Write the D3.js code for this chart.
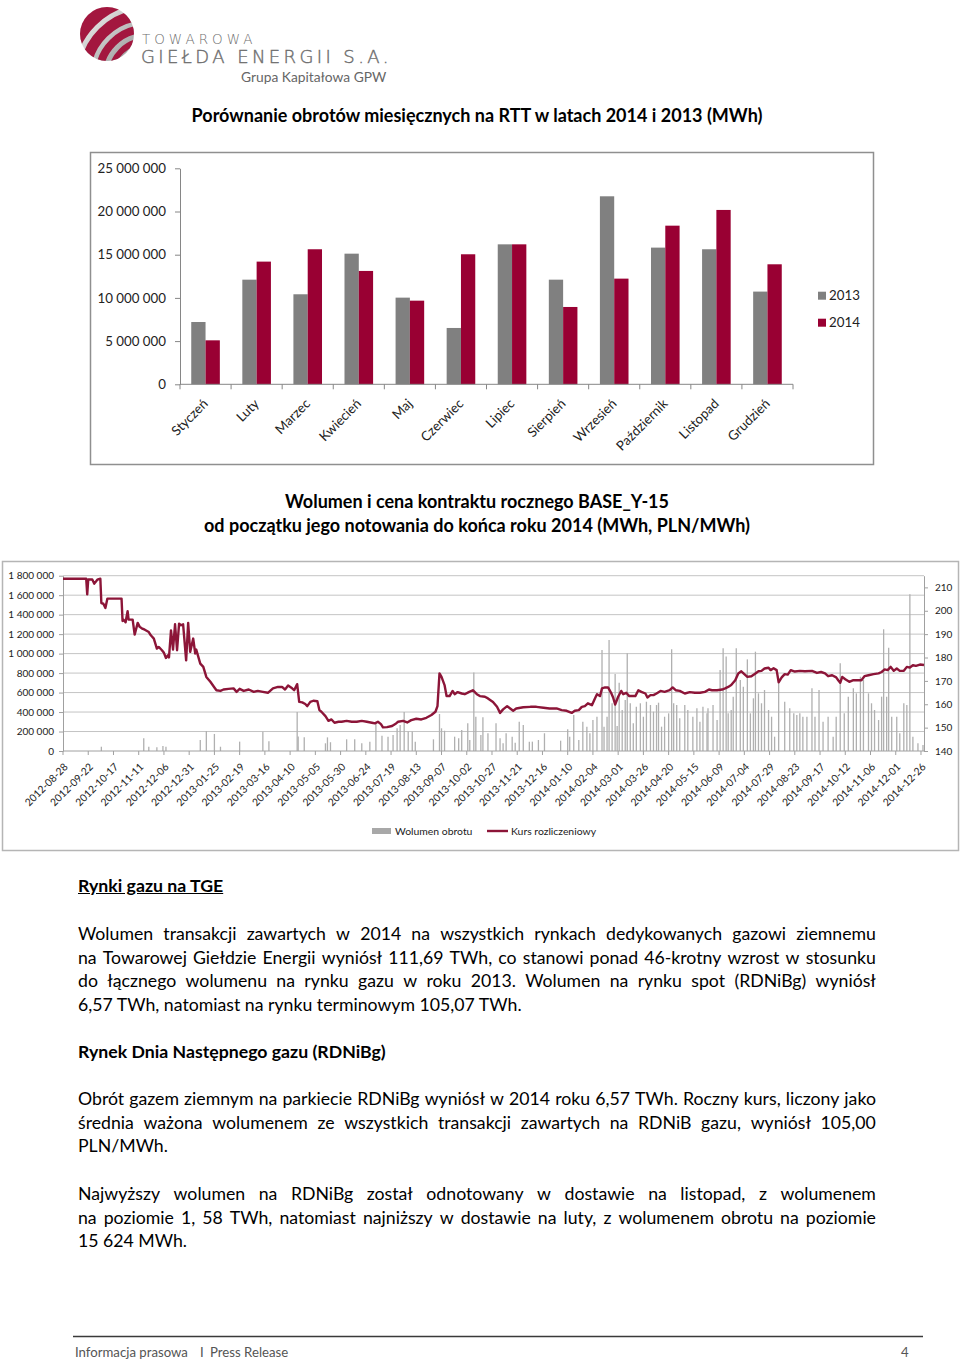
<!DOCTYPE html>
<html>
<head>
<meta charset="utf-8">
<script src="https://cdn.jsdelivr.net/npm/d3@7"></script>
<style>
  body { margin: 0; width: 960px; height: 1362px; position: relative; background: #fff; font-family: Lato, "Open Sans", sans-serif; overflow: hidden; }
  svg { position: absolute; left: 0; top: 0; }
  .ln { position: absolute; left: 78px; width: 798px; font-size: 17.7px; line-height: 23.7px; height: 23.7px; color: #000; white-space: nowrap; }
  .j { display: flex; justify-content: space-between; }
  .b { font-weight: bold; }
  .u { text-decoration: underline; }
</style>
</head>
<body>
<div id="page"></div>
<script>
// ---------- data: monthly turnover on RTT (MWh) ----------
const months = ["Styczeń", "Luty", "Marzec", "Kwiecień", "Maj", "Czerwiec", "Lipiec", "Sierpień", "Wrzesień", "Październik", "Listopad", "Grudzień"];
const years = ["2013", "2014"];
const turnover2013 = [7210000, 12110000, 10420000, 15120000, 10030000, 6520000, 16200000, 12110000, 21760000, 15820000, 15630000, 10730000];
const turnover2014 = [5090000, 14200000, 15630000, 13120000, 9680000, 15050000, 16200000, 8950000, 12230000, 18360000, 20180000, 13890000];
const turnoverTicks = [0, 5000000, 10000000, 15000000, 20000000, 25000000];

// ---------- data: BASE_Y-15 volume (thousand MWh) and settlement price (PLN/MWh) ----------
const volumeTicks = [0, 200000, 400000, 600000, 800000, 1000000, 1200000, 1400000, 1600000, 1800000];
const priceTicks = [140, 150, 160, 170, 180, 190, 200, 210];
const dateTicks = ["2012-08-28", "2012-09-22", "2012-10-17", "2012-11-11", "2012-12-06", "2012-12-31", "2013-01-25", "2013-02-19", "2013-03-16", "2013-04-10", "2013-05-05", "2013-05-30", "2013-06-24", "2013-07-19", "2013-08-13", "2013-09-07", "2013-10-02", "2013-10-27", "2013-11-21", "2013-12-16", "2014-01-10", "2014-02-04", "2014-03-01", "2014-03-26", "2014-04-20", "2014-05-15", "2014-06-09", "2014-07-04", "2014-07-29", "2014-08-23", "2014-09-17", "2014-10-12", "2014-11-06", "2014-12-01", "2014-12-26"];

const volumeK = [["2012-10-05",44],["2012-11-16",130],["2012-11-21",44],["2012-11-29",38],["2012-12-05",51],["2012-12-08",44],["2013-01-11",113],["2013-01-17",205],["2013-01-25",175],["2013-01-31",44],["2013-02-19",96],["2013-03-14",198],["2013-03-20",100],["2013-04-17",400],["2013-04-18",150],["2013-04-24",140],["2013-05-15",79],["2013-05-17",140],["2013-05-20",90],["2013-06-05",120],["2013-06-13",120],["2013-06-20",79],["2013-06-28",96],["2013-07-04",284],["2013-07-10",157],["2013-07-16",147],["2013-07-21",164],["2013-07-25",233],["2013-07-28",267],["2013-08-01",400],["2013-08-05",200],["2013-08-09",200],["2013-08-12",96],["2013-08-30",120],["2013-09-05",380],["2013-09-07",233],["2013-09-10",208],["2013-09-20",147],["2013-09-24",130],["2013-09-27",216],["2013-10-03",284],["2013-10-05",113],["2013-10-09",806],["2013-10-11",352],["2013-10-16",164],["2013-10-18",346],["2013-10-23",182],["2013-10-31",284],["2013-11-04",130],["2013-11-07",79],["2013-11-10",182],["2013-11-16",147],["2013-11-19",85],["2013-11-23",301],["2013-11-27",267],["2013-12-03",96],["2013-12-06",96],["2013-12-12",113],["2013-12-18",182],["2014-01-03",106],["2014-01-10",223],["2014-01-12",147],["2014-01-16",370],["2014-01-21",113],["2014-01-25",301],["2014-01-29",250],["2014-02-01",182],["2014-02-04",318],["2014-02-08",352],["2014-02-13",1037],["2014-02-15",250],["2014-02-18",352],["2014-02-20",1140],["2014-02-23",490],["2014-02-26",790],["2014-02-28",257],["2014-03-02",701],["2014-03-05",421],["2014-03-08",524],["2014-03-10",1003],["2014-03-13",490],["2014-03-16",284],["2014-03-19",455],["2014-03-23",490],["2014-03-26",352],["2014-03-29",506],["2014-04-02",472],["2014-04-05",404],["2014-04-08",472],["2014-04-10",496],["2014-04-13",250],["2014-04-16",352],["2014-04-20",387],["2014-04-23",1044],["2014-04-25",490],["2014-04-28",472],["2014-05-01",336],["2014-05-06",472],["2014-05-09",421],["2014-05-14",352],["2014-05-18",438],["2014-05-21",301],["2014-05-24",455],["2014-05-28",387],["2014-05-29",438],["2014-06-03",472],["2014-06-07",318],["2014-06-10",832],["2014-06-13",1054],["2014-06-16",970],["2014-06-18",387],["2014-06-21",421],["2014-06-23",558],["2014-06-26",1054],["2014-06-30",729],["2014-07-03",660],["2014-07-07",941],["2014-07-10",387],["2014-07-13",541],["2014-07-15",1020],["2014-07-18",592],["2014-07-21",490],["2014-07-24",626],["2014-07-28",421],["2014-07-31",352],["2014-08-03",147],["2014-08-07",729],["2014-08-13",506],["2014-08-18",438],["2014-08-22",387],["2014-08-25",370],["2014-08-28",387],["2014-08-31",352],["2014-09-04",352],["2014-09-09",644],["2014-09-12",352],["2014-09-16",626],["2014-09-20",301],["2014-09-25",352],["2014-09-30",147],["2014-10-03",352],["2014-10-07",900],["2014-10-11",387],["2014-10-15",558],["2014-10-20",644],["2014-10-23",592],["2014-10-27",763],["2014-10-30",729],["2014-11-04",592],["2014-11-07",490],["2014-11-10",421],["2014-11-14",318],["2014-11-17",558],["2014-11-19",1250],["2014-11-22",558],["2014-11-24",1060],["2014-11-27",352],["2014-12-02",352],["2014-12-05",182],["2014-12-09",490],["2014-12-12",472],["2014-12-15",1610],["2014-12-18",147],["2014-12-23",79],["2014-12-28",62]];

const kurs = [["2012-08-28",213.7],["2012-09-20",213.7],["2012-09-21",207.0],["2012-09-22",213.4],["2012-09-26",213.4],["2012-09-28",211.6],["2012-10-01",213.3],["2012-10-04",213.7],["2012-10-05",203.3],["2012-10-07",203.0],["2012-10-09",201.2],["2012-10-11",205.2],["2012-10-25",205.2],["2012-10-26",195.6],["2012-10-27",196.2],["2012-10-29",195.1],["2012-10-31",199.8],["2012-11-01",196.2],["2012-11-05",196.2],["2012-11-07",189.8],["2012-11-10",194.8],["2012-11-12",193.1],["2012-11-14",192.5],["2012-11-17",191.9],["2012-11-21",190.9],["2012-11-23",189.5],["2012-11-26",188.1],["2012-11-29",183.8],["2012-12-01",184.5],["2012-12-04",183.1],["2012-12-06",182.0],["2012-12-08",179.8],["2012-12-10",181.0],["2012-12-11",180.0],["2012-12-13",191.6],["2012-12-15",183.4],["2012-12-17",194.2],["2012-12-19",183.1],["2012-12-21",194.5],["2012-12-23",193.8],["2012-12-25",194.2],["2012-12-28",178.8],["2012-12-30",194.8],["2013-01-01",182.4],["2013-01-04",188.1],["2013-01-06",181.7],["2013-01-07",183.4],["2013-01-11",177.4],["2013-01-14",176.0],["2013-01-17",171.7],["2013-01-21",169.6],["2013-01-25",167.2],["2013-01-27",166.0],["2013-01-31",165.7],["2013-02-03",166.3],["2013-02-08",166.6],["2013-02-13",166.8],["2013-02-16",165.3],["2013-02-19",166.6],["2013-02-23",165.7],["2013-02-28",166.3],["2013-03-05",165.3],["2013-03-09",165.7],["2013-03-14",165.3],["2013-03-19",164.9],["2013-03-24",166.8],["2013-03-29",167.4],["2013-04-02",167.4],["2013-04-05",166.3],["2013-04-08",168.0],["2013-04-12",166.8],["2013-04-14",166.0],["2013-04-17",168.6],["2013-04-19",161.0],["2013-04-22",160.8],["2013-04-25",160.1],["2013-04-27",159.2],["2013-04-30",161.0],["2013-05-03",161.5],["2013-05-07",161.3],["2013-05-09",157.5],["2013-05-11",156.8],["2013-05-15",154.9],["2013-05-18",152.9],["2013-05-21",153.5],["2013-05-24",152.1],["2013-05-28",152.5],["2013-05-31",152.5],["2013-06-05",152.9],["2013-06-10",152.5],["2013-06-15",152.5],["2013-06-20",152.9],["2013-06-25",152.5],["2013-06-30",152.1],["2013-07-03",151.8],["2013-07-06",152.5],["2013-07-09",151.5],["2013-07-11",150.1],["2013-07-15",150.2],["2013-07-20",150.7],["2013-07-24",151.8],["2013-07-26",152.5],["2013-07-31",152.9],["2013-08-04",152.2],["2013-08-08",153.2],["2013-08-13",153.8],["2013-08-18",153.5],["2013-08-23",154.2],["2013-08-28",155.4],["2013-09-01",156.8],["2013-09-03",159.2],["2013-09-05",173.2],["2013-09-07",171.7],["2013-09-10",168.2],["2013-09-12",163.5],["2013-09-15",163.5],["2013-09-18",165.7],["2013-09-20",164.3],["2013-09-23",165.2],["2013-09-27",164.6],["2013-09-30",164.3],["2013-10-04",165.2],["2013-10-08",166.0],["2013-10-12",164.3],["2013-10-15",163.5],["2013-10-20",163.2],["2013-10-23",162.5],["2013-10-28",161.0],["2013-11-01",158.9],["2013-11-04",156.3],["2013-11-07",157.8],["2013-11-11",159.2],["2013-11-14",158.2],["2013-11-17",157.2],["2013-11-20",158.2],["2013-11-27",158.7],["2013-12-04",158.9],["2013-12-10",158.9],["2013-12-17",158.5],["2013-12-23",158.2],["2013-12-30",158.2],["2014-01-04",157.5],["2014-01-09",157.2],["2014-01-14",156.3],["2014-01-17",157.2],["2014-01-21",157.5],["2014-01-24",158.9],["2014-01-27",159.2],["2014-01-30",160.4],["2014-02-03",159.6],["2014-02-06",162.5],["2014-02-08",164.3],["2014-02-11",163.5],["2014-02-13",166.8],["2014-02-16",167.2],["2014-02-19",167.2],["2014-02-22",164.9],["2014-02-24",162.9],["2014-02-26",159.9],["2014-03-01",163.2],["2014-03-04",165.7],["2014-03-06",164.3],["2014-03-09",164.9],["2014-03-12",163.5],["2014-03-15",163.5],["2014-03-18",163.5],["2014-03-21",166.0],["2014-03-24",165.3],["2014-03-28",164.6],["2014-03-30",162.9],["2014-04-02",163.9],["2014-04-05",163.9],["2014-04-08",164.6],["2014-04-12",165.7],["2014-04-16",165.3],["2014-04-21",166.0],["2014-04-24",167.2],["2014-04-27",166.0],["2014-05-01",165.7],["2014-05-06",164.6],["2014-05-11",165.2],["2014-05-16",164.9],["2014-05-21",164.9],["2014-05-26",165.3],["2014-05-30",166.3],["2014-06-02",166.0],["2014-06-07",166.0],["2014-06-12",166.3],["2014-06-15",166.8],["2014-06-18",167.4],["2014-06-21",168.2],["2014-06-25",170.3],["2014-06-28",173.2],["2014-07-01",174.1],["2014-07-04",172.9],["2014-07-07",171.7],["2014-07-11",172.0],["2014-07-15",173.2],["2014-07-18",174.1],["2014-07-21",174.3],["2014-07-24",175.3],["2014-07-28",175.6],["2014-07-30",174.6],["2014-08-02",175.4],["2014-08-05",174.6],["2014-08-07",169.4],["2014-08-10",171.5],["2014-08-13",172.9],["2014-08-16",172.7],["2014-08-19",174.6],["2014-08-23",174.0],["2014-08-28",174.3],["2014-09-02",174.1],["2014-09-09",174.3],["2014-09-14",173.4],["2014-09-18",173.8],["2014-09-22",173.2],["2014-09-25",172.0],["2014-09-29",172.4],["2014-10-03",171.5],["2014-10-05",170.3],["2014-10-07",169.2],["2014-10-09",171.7],["2014-10-12",170.7],["2014-10-16",169.6],["2014-10-20",170.3],["2014-10-25",170.3],["2014-10-28",170.3],["2014-10-31",172.0],["2014-11-04",172.4],["2014-11-09",172.9],["2014-11-14",173.2],["2014-11-17",173.8],["2014-11-20",174.9],["2014-11-23",174.6],["2014-11-26",176.0],["2014-11-29",174.3],["2014-12-02",175.3],["2014-12-05",174.3],["2014-12-09",174.3],["2014-12-12",176.0],["2014-12-15",175.7],["2014-12-18",176.7],["2014-12-21",176.4],["2014-12-25",177.0],["2014-12-29",176.8]];

// ---------- page text ----------
const paragraphs = [
  { baseline: 941, lines: ["Wolumen transakcji zawartych w 2014 na wszystkich rynkach dedykowanych gazowi ziemnemu", "na Towarowej Giełdzie Energii wyniósł 111,69 TWh, co stanowi ponad 46-krotny wzrost w stosunku", "do łącznego wolumenu na rynku gazu w roku 2013. Wolumen na rynku spot (RDNiBg) wyniósł", "6,57 TWh, natomiast na rynku terminowym 105,07 TWh."] },
  { baseline: 1106, lines: ["Obrót gazem ziemnym na parkiecie RDNiBg wyniósł w 2014 roku 6,57 TWh. Roczny kurs, liczony jako", "średnia ważona wolumenem ze wszystkich transakcji zawartych na RDNiB gazu, wyniósł 105,00", "PLN/MWh."] },
  { baseline: 1201, lines: ["Najwyższy wolumen na RDNiBg został odnotowany w dostawie na listopad, z wolumenem", "na poziomie 1, 58 TWh, natomiast najniższy w dostawie na luty, z wolumenem obrotu na poziomie", "15 624 MWh."] }
];

const RED = "#990033";
const GREY = "#808080";
const LINE = "#8c1538";
const fmt = v => d3.format(",")(v).replace(/,/g, " ");
const parse = d3.timeParse("%Y-%m-%d");

const svg = d3.select("body").append("svg").attr("width", 960).attr("height", 1362);
const defs = svg.append("defs");

// ---------- logo ----------
defs.append("clipPath").attr("id", "ball")
  .append("circle").attr("cx", 107).attr("cy", 34).attr("r", 27);
const grad = defs.append("linearGradient").attr("id", "silver")
  .attr("x1", 0).attr("y1", 0).attr("x2", 1).attr("y2", 1);
grad.append("stop").attr("offset", 0).attr("stop-color", "#ffffff");
grad.append("stop").attr("offset", 1).attr("stop-color", "#8f8f8f");
const ball = svg.append("g").attr("clip-path", "url(#ball)");
ball.append("rect").attr("x", 78).attr("y", 5).attr("width", 60).attr("height", 60).attr("fill", "url(#silver)");
[[80, 17], [61, 11], [47, 8], [35, 6]].forEach(([r, w]) => {
  ball.append("circle").attr("cx", 146).attr("cy", 76).attr("r", r)
    .attr("fill", "none").attr("stroke", "#a3173f").attr("stroke-width", w);
});
svg.append("text").attr("x", 142).attr("y", 43.5).attr("font-family", "DejaVu Sans").attr("font-weight", 200)
  .attr("font-size", 13.5).attr("letter-spacing", 4).attr("fill", "#6e6e6e").text("TOWAROWA");
svg.append("text").attr("x", 141).attr("y", 63.3).attr("font-family", "DejaVu Sans").attr("font-weight", 200)
  .attr("font-size", 18).attr("letter-spacing", 3.4).attr("fill", "#6e6e6e")
  .attr("stroke", "#6e6e6e").attr("stroke-width", 0.4).text("GIEŁDA ENERGII S.A.");
svg.append("text").attr("x", 241).attr("y", 82).attr("font-size", 13.8)
  .attr("fill", "#666").text("Grupa Kapitałowa GPW");

// ---------- chart 1: monthly turnover ----------
svg.append("text").attr("x", 477).attr("y", 122).attr("text-anchor", "middle")
  .attr("font-size", 18).attr("font-weight", "bold")
  .text("Porównanie obrotów miesięcznych na RTT w latach 2014 i 2013 (MWh)");

svg.append("rect").attr("x", 90.5).attr("y", 152.5).attr("width", 783).attr("height", 312)
  .attr("fill", "#fff").attr("stroke", "#8f8f8f").attr("stroke-width", 1.5);

const c1 = { left: 180, right: 793, top: 168.3, bottom: 384.3 };
const x1 = d3.scaleBand().domain(months).range([c1.left, c1.right]);
const xs = d3.scaleBand().domain(years).range([0, x1.bandwidth()]).paddingOuter(0.786);
const y1 = d3.scaleLinear().domain([0, 25000000]).range([c1.bottom, c1.top]);

const g1 = svg.append("g");
const yAx1 = g1.append("g").attr("transform", `translate(${c1.left},0)`)
  .call(d3.axisLeft(y1).tickValues(turnoverTicks).tickFormat(fmt).tickSize(5).tickSizeOuter(0).tickPadding(9));
yAx1.select(".domain").attr("stroke", "#868686");
yAx1.selectAll(".tick line").attr("stroke", "#868686");
yAx1.selectAll(".tick text").attr("font-family", "Lato").attr("font-size", 13.3).attr("fill", "#222");

const rows = months.map((m, i) => ({ m, v: [turnover2013[i], turnover2014[i]] }));
g1.selectAll("g.month").data(rows).enter().append("g")
  .attr("transform", d => `translate(${x1(d.m)},0)`)
  .selectAll("rect").data(d => d.v.map((v, k) => ({ y: years[k], v }))).enter().append("rect")
  .attr("x", d => xs(d.y)).attr("width", xs.bandwidth())
  .attr("y", d => y1(d.v)).attr("height", d => c1.bottom - y1(d.v))
  .attr("fill", d => d.y === "2013" ? GREY : RED);

g1.append("line").attr("x1", c1.left).attr("x2", c1.right).attr("y1", c1.bottom).attr("y2", c1.bottom)
  .attr("stroke", "#868686");
g1.selectAll("line.mt").data(months.concat(["end"])).enter().append("line")
  .attr("x1", d => d === "end" ? c1.right : x1(d)).attr("x2", d => d === "end" ? c1.right : x1(d))
  .attr("y1", c1.bottom).attr("y2", c1.bottom + 5).attr("stroke", "#868686");
g1.selectAll("text.ml").data(months).enter().append("text")
  .attr("transform", d => `translate(${x1(d) + x1.bandwidth() / 2},${c1.bottom + 17}) rotate(-45)`)
  .attr("text-anchor", "end").attr("dy", "0.35em").attr("font-size", 13.3).attr("fill", "#222")
  .text(d => d);

const lg1 = g1.selectAll("g.lg").data(years).enter().append("g")
  .attr("transform", (d, i) => `translate(818,${295.7 + i * 27})`);
lg1.append("rect").attr("x", 0).attr("y", -4).attr("width", 8).attr("height", 8)
  .attr("fill", d => d === "2013" ? GREY : RED);
lg1.append("text").attr("x", 11).attr("dy", "0.36em").attr("font-size", 13.3).attr("fill", "#222").text(d => d);

// ---------- chart 2: BASE_Y-15 ----------
svg.append("text").attr("x", 477).attr("y", 508).attr("text-anchor", "middle")
  .attr("font-size", 18).attr("font-weight", "bold").text("Wolumen i cena kontraktu rocznego BASE_Y-15");
svg.append("text").attr("x", 477).attr("y", 532).attr("text-anchor", "middle")
  .attr("font-size", 18).attr("font-weight", "bold").text("od początku jego notowania do końca roku 2014 (MWh, PLN/MWh)");

svg.append("rect").attr("x", 2.5).attr("y", 561.5).attr("width", 956).attr("height", 289)
  .attr("fill", "#fff").attr("stroke", "#b5b5b5").attr("stroke-width", 1.5);

const c2 = { left: 63, right: 924, top: 575.7, bottom: 751 };
const x2 = d3.scaleTime().domain([parse("2012-08-28"), parse("2014-12-29")]).range([c2.left, c2.right]);
const yV = d3.scaleLinear().domain([0, 1800000]).range([c2.bottom, c2.top]);
const yP = d3.scaleLinear().domain([140, 215]).range([c2.bottom, c2.top]);

const g2 = svg.append("g");
g2.selectAll("line.grid").data(volumeTicks.slice(1)).enter().append("line")
  .attr("x1", c2.left).attr("x2", c2.right).attr("y1", d => yV(d)).attr("y2", d => yV(d))
  .attr("stroke", "#c4c4c4");

const yAxV = g2.append("g").attr("transform", `translate(${c2.left},0)`)
  .call(d3.axisLeft(yV).tickValues(volumeTicks).tickFormat(fmt).tickSize(4).tickSizeOuter(0).tickPadding(5));
const yAxP = g2.append("g").attr("transform", `translate(${c2.right},0)`)
  .call(d3.axisRight(yP).tickValues(priceTicks).tickSize(4).tickSizeOuter(0).tickPadding(7));
[yAxV, yAxP].forEach(a => {
  a.select(".domain").attr("stroke", "#a0a0a0");
  a.selectAll(".tick line").attr("stroke", "#a0a0a0");
  a.selectAll(".tick text").attr("font-family", "Lato").attr("font-size", 10).attr("fill", "#222");
});

// volume bars
g2.selectAll("line.vol").data(volumeK).enter().append("line")
  .attr("x1", d => x2(parse(d[0]))).attr("x2", d => x2(parse(d[0])))
  .attr("y1", c2.bottom).attr("y2", d => yV(d[1] * 1000))
  .attr("stroke", "#b0b0b0").attr("stroke-width", 1.3);

// x axis
g2.append("line").attr("x1", c2.left).attr("x2", c2.right).attr("y1", c2.bottom).attr("y2", c2.bottom)
  .attr("stroke", "#a0a0a0");
g2.selectAll("line.xt").data(dateTicks).enter().append("line")
  .attr("x1", d => x2(parse(d))).attr("x2", d => x2(parse(d)))
  .attr("y1", c2.bottom).attr("y2", c2.bottom + 4).attr("stroke", "#a0a0a0");
g2.selectAll("text.xl").data(dateTicks).enter().append("text")
  .attr("transform", d => `translate(${x2(parse(d)) + 3},${c2.bottom + 14}) rotate(-45)`)
  .attr("text-anchor", "end").attr("dy", "0.35em").attr("font-size", 10.3).attr("fill", "#222")
  .text(d => d);

// price line
const priceLine = d3.line().x(d => x2(parse(d[0]))).y(d => yP(d[1]));
g2.append("path").datum(kurs).attr("d", priceLine)
  .attr("fill", "none").attr("stroke", LINE).attr("stroke-width", 2.4).attr("stroke-linejoin", "round");

// legend
g2.append("rect").attr("x", 372).attr("y", 828).attr("width", 19).attr("height", 6).attr("fill", "#a8a8a8");
g2.append("text").attr("x", 395).attr("y", 831).attr("dy", "0.35em").attr("font-size", 10.4).attr("fill", "#222").text("Wolumen obrotu");
g2.append("line").attr("x1", 487).attr("x2", 508).attr("y1", 831).attr("y2", 831).attr("stroke", LINE).attr("stroke-width", 2.4);
g2.append("text").attr("x", 511).attr("y", 831).attr("dy", "0.35em").attr("font-size", 10.4).attr("fill", "#222").text("Kurs rozliczeniowy");

// ---------- body text ----------
const page = d3.select("#page");
const ASC = 18.8;
const head = (t, baseline, cls) => page.append("div").attr("class", "ln b " + cls)
  .style("top", (baseline - ASC) + "px").text(t);
head("Rynki gazu na TGE", 893, "u");
head("Rynek Dnia Następnego gazu (RDNiBg)", 1059, "");
paragraphs.forEach(p => {
  p.lines.forEach((t, i) => {
    const top = p.baseline - ASC + i * 23.6;
    if (i < p.lines.length - 1) {
      page.append("div").attr("class", "ln j").style("top", top + "px")
        .selectAll("span").data(t.split(" ")).enter().append("span").text(w => w);
    } else {
      page.append("div").attr("class", "ln").style("top", top + "px").text(t);
    }
  });
});

// ---------- footer ----------
svg.append("line").attr("x1", 73).attr("x2", 923).attr("y1", 1336.5).attr("y2", 1336.5)
  .attr("stroke", "#3a3a3a").attr("stroke-width", 1.3);
const ft = svg.append("text").attr("y", 1357).attr("font-size", 13.2).attr("fill", "#555");
ft.append("tspan").attr("x", 75).text("Informacja prasowa");
ft.append("tspan").attr("x", 200).text("I");
ft.append("tspan").attr("x", 210).text("Press Release");
svg.append("text").attr("x", 901).attr("y", 1357).attr("font-size", 13.2).attr("fill", "#555").text("4");
</script>
</body>
</html>
